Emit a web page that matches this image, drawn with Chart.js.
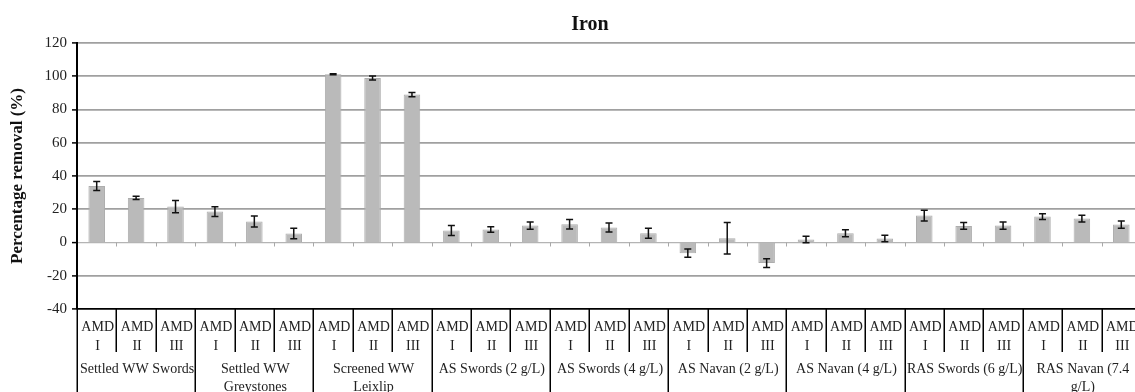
<!DOCTYPE html>
<html>
<head>
<meta charset="utf-8">
<title>Iron</title>
<script src="https://cdn.jsdelivr.net/npm/chart.js@4.4.0/dist/chart.umd.min.js"></script>
<style>
  html, body { margin: 0; padding: 0; background: #fff; overflow: hidden; }
  #wrap { width: 1145px; height: 392px; }
</style>
</head>
<body>
<div id="wrap"><canvas id="chart" width="1145" height="392"></canvas></div>
<script>
// treatment groups (wrapped label lines) and the three doses inside each
const groups = [
  ['Settled WW Swords'],
  ['Settled WW', 'Greystones'],
  ['Screened WW', 'Leixlip'],
  ['AS Swords (2 g/L)'],
  ['AS Swords (4 g/L)'],
  ['AS Navan (2 g/L)'],
  ['AS Navan (4 g/L)'],
  ['RAS Swords (6 g/L)'],
  ['RAS Navan (7.4', 'g/L)']
];
const doses = [['AMD', 'I'], ['AMD', 'II'], ['AMD', 'III']];

// percentage removal and standard deviation, one per group/dose
const removal = [34, 26.8, 21.6, 18.6, 12.6, 5.4, 101.2, 99, 89,
                 7.2, 7.8, 10.2, 11, 9, 5.6, -6.4, 2.6, -12.4,
                 1.8, 5.6, 2.4, 16.2, 10, 10.2, 15.6, 14.4, 10.8];
const errors = [2.7, 1, 3.7, 2.9, 3.3, 3.2, 0.3, 1.2, 1.3,
                3, 1.7, 2.2, 2.9, 2.7, 3, 2.5, 9.5, 2.6,
                2, 2.1, 1.9, 3.2, 2.1, 2.2, 1.7, 2, 2.2];

const yTicks = [-40, -20, 0, 20, 40, 60, 80, 100, 120];

const labels = [];
groups.forEach(g => doses.forEach(d => labels.push(g.join(' ') + ' ' + d.join(' '))));

const serif = '"Liberation Serif", "Times New Roman", serif';

// error bars, zero-line ticks, the label table underneath and the title
const extras = {
  id: 'extras',
  afterDatasetsDraw(chart) {
    const { ctx, chartArea } = chart;
    const x = chart.scales.x, y = chart.scales.y;
    const meta = chart.getDatasetMeta(0);
    const step = x.getPixelForValue(1) - x.getPixelForValue(0);

    ctx.save();
    // ticks hanging off the zero line
    const y0 = y.getPixelForValue(0);
    ctx.strokeStyle = '#a8a8a8';
    ctx.lineWidth = 1;
    for (let i = 1; i < labels.length; i++) {
      const bx = Math.round(x.getPixelForValue(i) - step / 2) + 0.5;
      ctx.beginPath();
      ctx.moveTo(bx, y0);
      ctx.lineTo(bx, y0 + 4);
      ctx.stroke();
    }

    // error bars
    ctx.strokeStyle = '#111';
    ctx.lineWidth = 1.5;
    meta.data.forEach((bar, i) => {
      const hi = y.getPixelForValue(removal[i] + errors[i]);
      const lo = y.getPixelForValue(removal[i] - errors[i]);
      const cx = bar.x;
      ctx.beginPath();
      ctx.moveTo(cx, hi); ctx.lineTo(cx, lo);
      ctx.moveTo(cx - 3.5, hi); ctx.lineTo(cx + 3.5, hi);
      ctx.moveTo(cx - 3.5, lo); ctx.lineTo(cx + 3.5, lo);
      ctx.stroke();
    });
    ctx.restore();
  },
  afterDraw(chart) {
    const { ctx, chartArea } = chart;
    const x = chart.scales.x;
    const step = x.getPixelForValue(1) - x.getPixelForValue(0);
    const top = chartArea.bottom;
    const rowEnd = top + 43;
    const bottom = chart.height + 2;

    ctx.save();
    ctx.strokeStyle = '#000';
    ctx.lineWidth = 1.5;
    for (let i = 0; i <= labels.length; i++) {
      const bx = Math.round(x.getPixelForValue(i) - step / 2) + 0.25;
      ctx.beginPath();
      ctx.moveTo(bx, top);
      ctx.lineTo(bx, i % doses.length === 0 ? bottom : rowEnd);
      ctx.stroke();
    }

    ctx.fillStyle = '#222';
    ctx.font = '14px ' + serif;
    ctx.textAlign = 'center';
    ctx.textBaseline = 'alphabetic';
    labels.forEach((_, i) => {
      const cx = x.getPixelForValue(i) + 1;
      const d = doses[i % doses.length];
      ctx.fillText(d[0], cx, top + 22);
      ctx.fillText(d[1], cx, top + 41);
    });
    groups.forEach((g, gi) => {
      const first = x.getPixelForValue(gi * doses.length);
      const last = x.getPixelForValue(gi * doses.length + doses.length - 1);
      const cx = (first + last) / 2 + 1;
      g.forEach((line, li) => ctx.fillText(line, cx, top + 64 + li * 18));
    });

    ctx.font = 'bold 20px ' + serif;
    ctx.fillStyle = '#111';
    ctx.fillText('Iron', 590, 30);
    ctx.restore();
  }
};

new Chart(document.getElementById('chart'), {
  type: 'bar',
  data: {
    labels: labels,
    datasets: [{
      data: removal,
      backgroundColor: '#bababa',
      borderColor: '#adadad',
      borderWidth: 1,
      barPercentage: 0.42,
      categoryPercentage: 1
    }]
  },
  options: {
    responsive: false,
    animation: false,
    devicePixelRatio: 1,
    layout: { padding: { top: 43, bottom: 83, right: 4, left: 0 } },
    plugins: { legend: { display: false }, tooltip: { enabled: false }, title: { display: false } },
    scales: {
      x: { display: false },
      y: {
        min: -40,
        max: 120,
        afterBuildTicks: scale => { scale.ticks = yTicks.map(v => ({ value: v })); },
        afterFit: scale => { scale.width = 77; },
        border: { display: true, color: '#000', width: 2 },
        grid: {
          color: ctx => ctx.tick.value === -40 ? '#000' : (ctx.tick.value === 0 ? '#b4b4b4' : '#a0a0a0'),
          lineWidth: ctx => ctx.tick.value === 0 ? 1.2 : 1.8,
          tickColor: '#000',
          tickLength: 5,
          tickWidth: 1.5
        },
        ticks: {
          color: '#222',
          padding: 5,
          font: { family: serif, size: 15 }
        },
        title: {
          display: true,
          text: 'Percentage removal (%)',
          color: '#111',
          padding: { top: 7, bottom: 0 },
          font: { family: serif, size: 17, weight: 'bold' }
        }
      }
    }
  },
  plugins: [extras]
});
</script>
</body>
</html>
